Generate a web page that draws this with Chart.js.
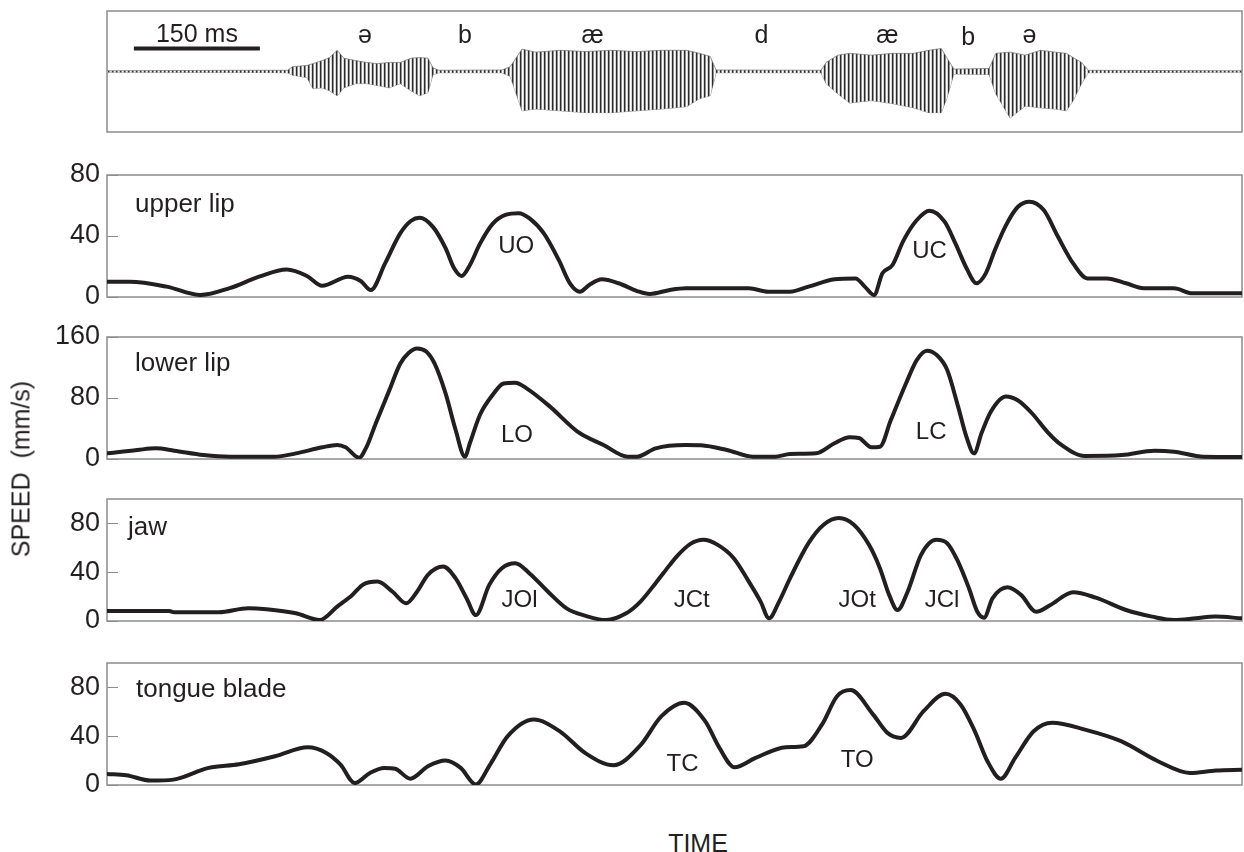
<!DOCTYPE html>
<html>
<head>
<meta charset="utf-8">
<script src="https://cdn.jsdelivr.net/npm/chart.js@4.4.1/dist/chart.umd.min.js"></script>
<style>
  body { margin: 0; background: #fff; }
  #fig { position: relative; width: 1244px; height: 852px; overflow: hidden;
         font-family: "Liberation Sans", Arial, Helvetica, sans-serif; color: #231f20; }
  #fig canvas { position: absolute; left: 0; }
  #ylab { position: absolute; left: 21px; top: 469px; transform: translate(-50%, -50%) rotate(-90deg);
          font-size: 25px; white-space: pre; }
  #xlab { position: absolute; left: 698px; top: 843px; transform: translate(-50%, -50%); font-size: 25px; }
</style>
</head>
<body>
<div id="fig">
  <canvas id="wave" width="1244" height="145" style="top:0"></canvas>
  <canvas id="upper" width="1244" height="172" style="top:150px"></canvas>
  <canvas id="lower" width="1244" height="172" style="top:312px"></canvas>
  <canvas id="jaw" width="1244" height="172" style="top:474px"></canvas>
  <canvas id="tongue" width="1244" height="172" style="top:638px"></canvas>
  <div id="ylab">SPEED  (mm/s)</div>
  <div id="xlab">TIME</div>
</div>
<script>
// time in ms (150 ms scale bar), speeds in mm/s

// acoustic waveform envelope (arbitrary units)
const waveTime = [0,150,215,221,238,245,256,265,274,282,296,309,322,336,349,362,372,382,388,395,470,480,494,510,540,570,600,630,660,690,705,718,725,850,856,870,884,910,935,960,978,993,1000,1008,1050,1058,1075,1093,1111,1129,1142,1150,1160,1168,1351];
const waveHigh = [0.012,0.02,0.02,0.08,0.10,0.13,0.18,0.23,0.35,0.22,0.18,0.15,0.13,0.15,0.15,0.22,0.23,0.22,0.06,0.02,0.025,0.08,0.37,0.32,0.35,0.33,0.35,0.33,0.35,0.35,0.30,0.25,0.025,0.02,0.15,0.27,0.30,0.27,0.30,0.30,0.35,0.38,0.22,0.04,0.05,0.30,0.32,0.27,0.35,0.32,0.30,0.23,0.15,0.02,0.012];
const waveLow = [-0.012,-0.015,-0.02,-0.06,-0.10,-0.28,-0.27,-0.32,-0.40,-0.27,-0.20,-0.20,-0.23,-0.27,-0.20,-0.32,-0.40,-0.35,-0.05,-0.02,-0.02,-0.08,-0.65,-0.62,-0.65,-0.68,-0.68,-0.65,-0.62,-0.58,-0.45,-0.40,-0.02,-0.02,-0.20,-0.37,-0.52,-0.48,-0.53,-0.60,-0.68,-0.68,-0.43,-0.04,-0.05,-0.37,-0.77,-0.57,-0.60,-0.62,-0.65,-0.48,-0.20,-0.02,-0.012];

const phonemes = ['ə', 'b', 'æ', 'd', 'æ', 'b', 'ə'];
const phonemeTimes = [307, 426, 578, 779, 929, 1025, 1098];
const scaleBarStart = 32;
const scaleBarLength = 150;

// upper lip
const upperTime = [0,27,71,111,146,181,214,238,256,287,302,314,331,349,362,372,388,403,413,422,432,444,459,475,490,503,520,538,551,563,574,589,609,631,646,670,689,764,787,813,835,866,891,902,913,923,935,948,964,979,997,1010,1023,1035,1046,1057,1070,1084,1098,1115,1132,1150,1167,1190,1213,1234,1270,1292,1351];
const upperSpeed = [10,10,6.8,1.3,5.8,13.3,18,13.8,7.4,13.3,10.5,4.6,22,41.7,50,52,46,32,19,13.8,21,35,48,54,55,51.6,41.7,24,9,3.5,7.9,11.6,9,3.9,2,4.6,5.7,5.7,3.5,3.5,6.8,11.6,12.2,6.8,1.3,15.5,21,37,50.5,56.6,49.4,35,19,9,15.5,31,47,59,62.5,57,39.5,22,12.2,12.2,9,5.7,5.7,2.4,2.4];

// lower lip
const lowerTime = [0,36,58,80,115,146,199,225,256,274,284,300,309,320,336,349,359,369,380,390,403,415,426,432,444,459,472,486,499,527,560,591,620,631,653,689,707,738,769,795,813,844,866,884,895,910,920,933,951,964,976,988,1000,1013,1023,1032,1041,1052,1070,1084,1101,1119,1136,1164,1208,1247,1270,1305,1351];
const lowerSpeed = [7.4,11.8,14,10.9,5.2,3,3,7.4,15.3,18.4,15.3,1.7,16,47,90,125,139,145,141,125,86,38,3,21,58,84,99,100,93,69,36,18.4,3,3,14,18.4,18,11.8,3,3,6.6,7.4,20.6,28.4,27.5,15.3,16,51,99,130,142,136,117,69,29,7.4,34,62,82,77,60,36,18.4,4,5.2,10.9,9.6,3,2.6];

// jaw
const jawTime = [0,74,80,133,168,190,225,253,274,292,305,322,340,356,369,382,400,415,428,439,455,470,486,503,525,547,569,594,618,635,653,670,678,694,710,727,746,764,778,788,800,813,835,853,871,889,907,920,931,941,953,969,987,1000,1013,1026,1036,1044,1054,1072,1088,1106,1123,1150,1177,1213,1244,1270,1296,1319,1351];
const jawSpeed = [8.2,8.2,7.1,7.1,10.4,9.6,6.3,0.8,11.8,21.4,30,32.3,24,14.5,24,37.8,44.6,35,18.6,4.9,29.6,43.3,47.4,39,24,10.4,4.4,0.8,6.3,15.9,31,46,52.8,63,66.5,62.4,51.5,32.3,15.9,2.2,15.9,35,63.8,78.9,84.4,78.9,62.4,43.3,21.4,9,24,54.2,66.5,63.8,48.7,26.9,7.6,2.7,18.6,27.7,21.4,7.6,13.1,23.6,19.1,9,3.6,0.8,2.2,3.6,2.2];

// tongue blade
const tongueTime = [0,23,52,79,121,157,200,239,261,278,295,313,330,343,361,382,403,421,439,456,477,508,539,569,603,634,660,687,712,729,747,772,808,829,851,869,885,912,929,945,972,998,1016,1033,1048,1064,1081,1103,1125,1164,1207,1251,1289,1320,1351];
const tongueSpeed = [9,8,3.6,4.4,14,17,23.6,31,26.3,16.7,1.6,9.9,14,13.3,5.2,15.3,20,14,0.5,16.7,40,53.6,44,26.3,16.2,31.8,56.4,67.4,52.3,30.4,14.5,22.2,31,31.8,49.5,72.8,77.8,57.7,42.7,38.6,60.5,74.7,66,44,19.5,5.2,22.2,44,51,45.4,35.9,19.5,9.9,11.8,12.4];

// axis ranges and tick labels
const upperTicks = [0, 40, 80];
const lowerTicks = [0, 80, 160];
const jawTicks = [0, 40, 80];
const tongueTicks = [0, 40, 80];

// event labels
const upperMarks = [{ text: 'UO', t: 487, v: 33 }, { text: 'UC', t: 979, v: 30 }];
const lowerMarks = [{ text: 'LO', t: 488, v: 31 }, { text: 'LC', t: 981, v: 35 }];
const jawMarks = [{ text: 'JOl', t: 491, v: 17 }, { text: 'JCt', t: 696, v: 17 }, { text: 'JOt', t: 893, v: 17 }, { text: 'JCl', t: 994, v: 17 }];
const tongueMarks = [{ text: 'TC', t: 685, v: 17 }, { text: 'TO', t: 893, v: 20 }];

const FONT = '"Liberation Sans", Arial, Helvetica, sans-serif';
const INK = '#231f20';
const T_END = 1351;

const toPoints = (times, values) => times.map((t, i) => ({ x: t, y: values[i] }));

// frame + inward ticks under the curve, text on top
const panelDecor = {
  id: 'panelDecor',
  beforeDatasetsDraw(chart, args, o) {
    const { ctx, chartArea: a } = chart;
    ctx.save();
    ctx.strokeStyle = '#8c8c8c';
    ctx.lineWidth = 1.5;
    ctx.strokeRect(a.left, a.top, a.right - a.left, a.bottom - a.top);
    ctx.lineWidth = 1;
    (o.ticks || []).forEach(v => {
      const y = Math.round(chart.scales.y.getPixelForValue(v)) + 0.5;
      ctx.beginPath();
      ctx.moveTo(a.left, y);
      ctx.lineTo(a.left + 11, y);
      ctx.stroke();
    });
    ctx.restore();
  },
  afterDatasetsDraw(chart, args, o) {
    const { ctx, chartArea: a, scales } = chart;
    ctx.save();
    ctx.fillStyle = INK;
    if (o.name) {
      ctx.font = `26px ${FONT}`;
      ctx.textAlign = 'left';
      ctx.textBaseline = 'alphabetic';
      ctx.fillText(o.name, a.left + o.nameDx, a.top + o.nameDy);
    }
    (o.marks || []).forEach(m => {
      ctx.font = `${o.markSize || 24}px ${FONT}`;
      ctx.textAlign = 'center';
      ctx.textBaseline = o.markBase || 'middle';
      ctx.fillText(m.text, scales.x.getPixelForValue(m.t), scales.y.getPixelForValue(m.v));
    });
    ctx.restore();
  }
};

function speedPanel(id, times, speeds, max, ticks, name, nameDx, nameDy, marks) {
  new Chart(document.getElementById(id), {
    type: 'line',
    data: {
      datasets: [{
        data: toPoints(times, speeds),
        borderColor: INK,
        borderWidth: 4,
        pointRadius: 0,
        cubicInterpolationMode: 'monotone',
        borderJoinStyle: 'round',
        borderCapStyle: 'round'
      }]
    },
    options: {
      responsive: false,
      animation: false,
      layout: { autoPadding: false, padding: { left: 0, right: 2, top: 25, bottom: 25 } },
      scales: {
        x: { type: 'linear', min: 0, max: T_END, display: false },
        y: {
          min: 0, max: max,
          afterBuildTicks: s => { s.ticks = ticks.map(v => ({ value: v })); },
          afterFit: s => { s.width = 107; },
          grid: { display: false, drawTicks: false },
          border: { display: false },
          ticks: { color: INK, padding: 7, font: { family: FONT, size: 27 } }
        }
      },
      plugins: {
        legend: { display: false },
        tooltip: { enabled: false },
        panelDecor: { ticks, name, nameDx, nameDy, marks }
      }
    },
    plugins: [panelDecor]
  });
}

// vertical-stripe fill imitating the dense voicing oscillation
function stripeFill() {
  const c = document.createElement('canvas');
  c.width = 4; c.height = 1;
  const g = c.getContext('2d');
  g.fillStyle = '#ffffff'; g.fillRect(0, 0, 4, 1);
  g.fillStyle = '#2b2b2b'; g.fillRect(0, 0, 1, 1);
  g.fillStyle = '#8e8e8e'; g.fillRect(1, 0, 1, 1);
  g.fillStyle = '#d6d6d6'; g.fillRect(3, 0, 1, 1);
  return g.createPattern(c, 'repeat');
}

new Chart(document.getElementById('wave'), {
  type: 'line',
  data: {
    datasets: [
      {
        data: toPoints(waveTime, waveHigh),
        borderColor: '#6a6a6a',
        borderWidth: 0.7,
        pointRadius: 0,
        fill: '+1',
        backgroundColor: stripeFill()
      },
      {
        data: toPoints(waveTime, waveLow),
        borderColor: '#6a6a6a',
        borderWidth: 0.7,
        pointRadius: 0
      },
      {
        data: [{ x: scaleBarStart, y: 0.38 }, { x: scaleBarStart + scaleBarLength, y: 0.38 }],
        borderColor: INK,
        borderWidth: 4,
        pointRadius: 0
      }
    ]
  },
  options: {
    responsive: false,
    animation: false,
    layout: { autoPadding: false, padding: { left: 107, right: 2, top: 11, bottom: 13 } },
    scales: {
      x: { type: 'linear', min: 0, max: T_END, display: false },
      y: { min: -1, max: 1, display: false }
    },
    plugins: {
      legend: { display: false },
      tooltip: { enabled: false },
      panelDecor: {
        markSize: 25,
        markBase: 'alphabetic',
        marks: phonemes.map((p, i) => ({ text: p, t: phonemeTimes[i], v: i === 5 ? 0.43 : 0.47 }))
          .concat([{ text: scaleBarLength + ' ms', t: scaleBarStart + scaleBarLength / 2, v: 0.48 }])
      }
    }
  },
  plugins: [panelDecor]
});

speedPanel('upper', upperTime, upperSpeed, 80, upperTicks, 'upper lip', 28, 37, upperMarks);
speedPanel('lower', lowerTime, lowerSpeed, 160, lowerTicks, 'lower lip', 28, 34, lowerMarks);
speedPanel('jaw', jawTime, jawSpeed, 100, jawTicks, 'jaw', 21, 36, jawMarks);
speedPanel('tongue', tongueTime, tongueSpeed, 100, tongueTicks, 'tongue blade', 29, 34, tongueMarks);
</script>
</body>
</html>
